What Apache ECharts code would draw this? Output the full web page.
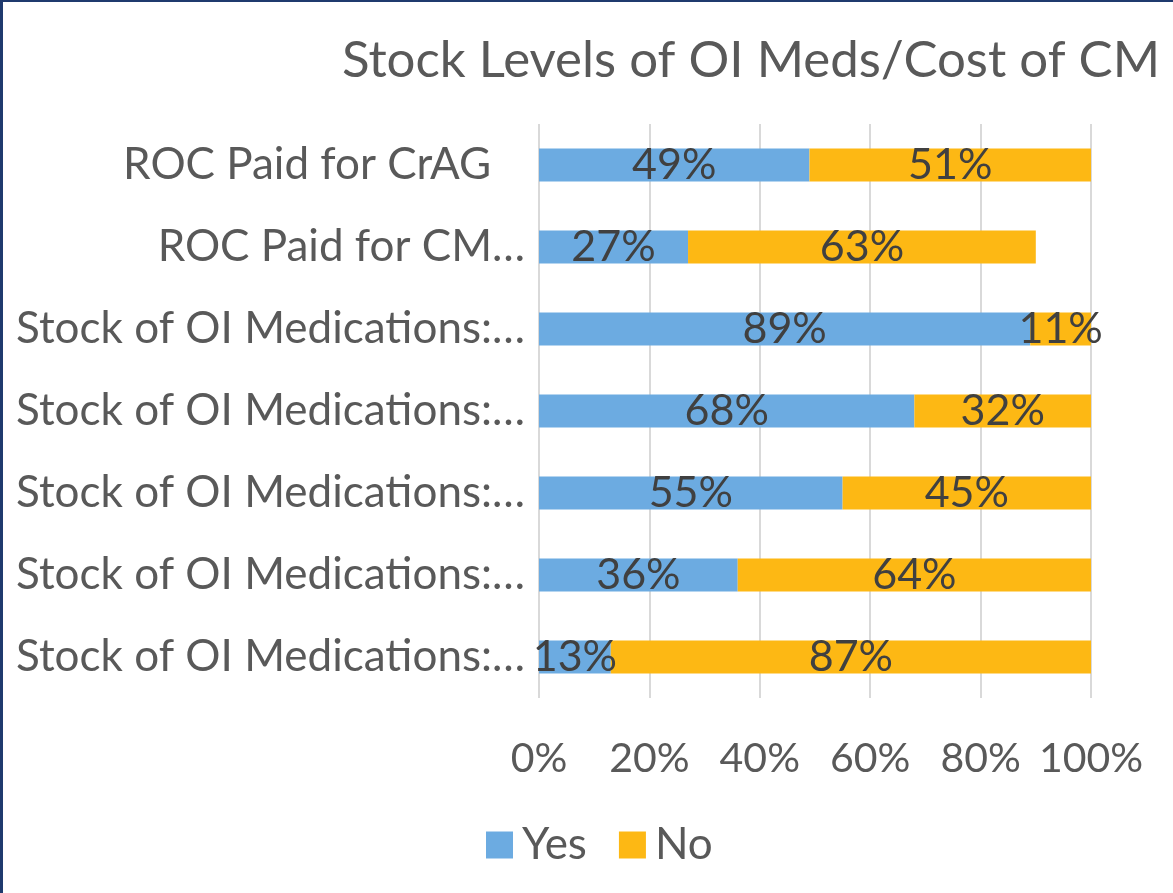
<!DOCTYPE html>
<html><head><meta charset="utf-8">
<script src="https://cdn.jsdelivr.net/npm/echarts@6/dist/echarts.min.js"></script>
<style>
html,body{margin:0;padding:0;background:#fff;}
#frame{position:absolute;left:0;top:0;width:1173px;height:893px;box-sizing:border-box;border-left:3px solid #1F3A6E;border-top:2px solid #1F3A6E;}
#c{position:absolute;left:0;top:0;width:1173px;height:893px;}
</style></head>
<body><div id="c"></div><div id="frame"></div>
<script>
var categories = ["ROC Paid for CrAG   ", "ROC Paid for CM…", "Stock of OI Medications:…", "Stock of OI Medications:…", "Stock of OI Medications:…", "Stock of OI Medications:…", "Stock of OI Medications:…"];
var yesValues = [49, 27, 89, 68, 55, 36, 13];
var noValues = [51, 63, 11, 32, 45, 64, 87];
var tickValues = [0, 20, 40, 60, 80, 100];
var titleText = "Stock Levels of OI Meds/Cost of CM";

var FONT = "Lato";
var chart = echarts.init(document.getElementById('c'), null, {renderer: 'canvas'});
var labelStyle = {show: true, position: 'inside', formatter: '{c}%', color: '#404040', fontSize: 43, fontFamily: FONT};
chart.setOption({
  animation: false,
  title: {text: titleText, right: 8, top: 30, textStyle: {fontFamily: FONT, fontSize: 51, fontWeight: 'normal', color: '#595959'}},
  grid: {left: 539, right: 82, top: 124, height: 574, containLabel: false},
  xAxis: {type: 'value', min: 0, max: 100, interval: 20,
    axisLine: {show: false}, axisTick: {show: false},
    splitLine: {lineStyle: {color: '#D9D9D9', width: 2}},
    axisLabel: {formatter: '{value}%', color: '#595959', fontSize: 41, fontFamily: FONT, margin: 40}},
  yAxis: {type: 'category', data: categories, inverse: true,
    axisLine: {show: false}, axisTick: {show: false},
    axisLabel: {color: '#595959', fontSize: 44, fontFamily: FONT, margin: 14}},
  legend: {top: 818, left: 481, itemWidth: 27, itemHeight: 27, itemGap: 32, icon: 'rect',
    textStyle: {color: '#595959', fontSize: 44, fontFamily: FONT, padding: [0, 0, 0, 4]}, data: ['Yes', 'No']},
  series: [
    {name: 'Yes', type: 'bar', stack: 's', data: yesValues, barWidth: 33, itemStyle: {color: '#6CABE1'}, label: labelStyle},
    {name: 'No', type: 'bar', stack: 's', data: noValues, barWidth: 33, itemStyle: {color: '#FDB814'}, label: labelStyle}
  ]
});
</script></body></html>
